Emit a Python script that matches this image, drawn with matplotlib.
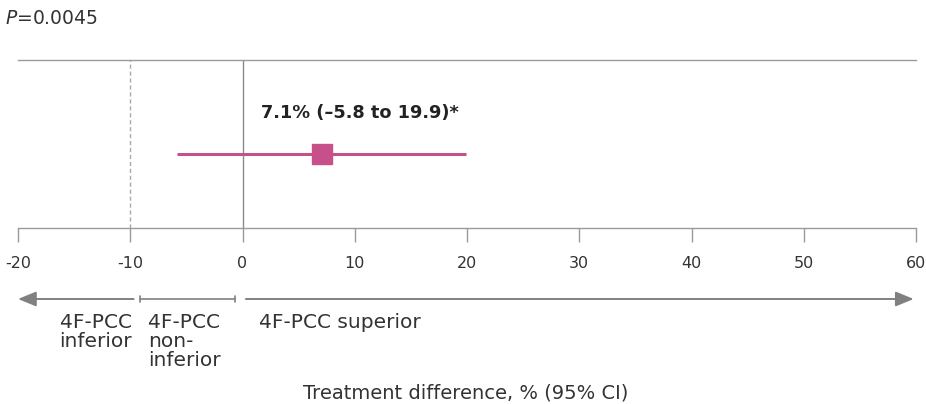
import matplotlib
matplotlib.use("Agg")
import matplotlib.pyplot as plt
from matplotlib.transforms import blended_transform_factory

# data
estimate = 7.1
ci_low = -5.8
ci_high = 19.9
margin = -10
xticks = [-20, -10, 0, 10, 20, 30, 40, 50, 60]
p_text = r"$\it{P}$=0.0045"
est_label = "7.1% (\u20135.8 to 19.9)*"
xlabel = "Treatment difference, % (95% CI)"

plt.rcParams['font.family'] = ['DejaVu Sans']
plt.rcParams['mathtext.fontset'] = 'dejavusans'
W, H = 926, 404
fig = plt.figure(figsize=(W / 100, H / 100), dpi=100)
ax = fig.add_axes([18 / W, 1 - 228 / H, 898 / W, 168 / H])
ax.set_xlim(-20, 60)
ax.set_ylim(0, 1)

axis_col = '#9a9a9a'
txt_col = '#333333'
pink = '#c8508a'

for s in ['left', 'right']:
    ax.spines[s].set_visible(False)
ax.spines['top'].set_color(axis_col)
ax.spines['bottom'].set_color(axis_col)
ax.spines['top'].set_linewidth(1)
ax.spines['bottom'].set_linewidth(1)
ax.set_yticks([])
ax.set_xticks(xticks)
ax.set_xticklabels([str(t) for t in xticks])
ax.tick_params(axis='x', length=10, width=1, color=axis_col, pad=10,
               labelsize=11.5, labelcolor=txt_col)

ax.axvline(0, color='#8a8a8a', lw=1)
ax.axvline(margin, color='#aaaaaa', lw=1, ls=(0, (3, 2)))

ax.plot([ci_low, ci_high], [0.44, 0.44], color=pink, lw=2.2, solid_capstyle='butt')
ax.plot([estimate], [0.44], marker='s', ms=15, color=pink, mec=pink)
ax.text(10.5, 0.685, est_label, ha='center', va='center',
        fontsize=12.8, fontweight='bold', color='#222222')

fig.text(5 / W, 1 - 18 / H, p_text, fontsize=13.5, color=txt_col,
         ha='left', va='center')

# arrows below axis
tr = blended_transform_factory(ax.transData, fig.transFigure)
ya = 1 - 299 / H
arr_col = '#808080'
ax.annotate('', xy=(-20, ya), xytext=(-9.7, ya), xycoords=tr, textcoords=tr,
            arrowprops=dict(arrowstyle='-|>,head_length=1.1,head_width=0.45',
                            color=arr_col, lw=1.4, shrinkA=0, shrinkB=0))
ax.annotate('', xy=(-9.1, ya), xytext=(-0.7, ya), xycoords=tr, textcoords=tr,
            arrowprops=dict(arrowstyle='|-|,widthA=0.2,widthB=0.2',
                            color=arr_col, lw=1.2, shrinkA=0, shrinkB=0))
ax.annotate('', xy=(59.8, ya), xytext=(0.3, ya), xycoords=tr, textcoords=tr,
            arrowprops=dict(arrowstyle='-|>,head_length=1.1,head_width=0.45',
                            color=arr_col, lw=1.4, shrinkA=0, shrinkB=0))

fs = 14.5
fig.text(132 / W, 1 - 313 / H, "4F-PCC\ninferior", ha='right', va='top',
         fontsize=fs, color=txt_col, linespacing=1.0, multialignment='right')
fig.text(148 / W, 1 - 313 / H, "4F-PCC\nnon-\ninferior", ha='left', va='top',
         fontsize=fs, color=txt_col, linespacing=1.0)
fig.text(259 / W, 1 - 313 / H, "4F-PCC superior", ha='left', va='top',
         fontsize=fs, color=txt_col)
fig.text(466 / W, 1 - 393 / H, xlabel, ha='center', va='center',
         fontsize=14, color=txt_col)

fig.savefig('out.png', dpi=100)
